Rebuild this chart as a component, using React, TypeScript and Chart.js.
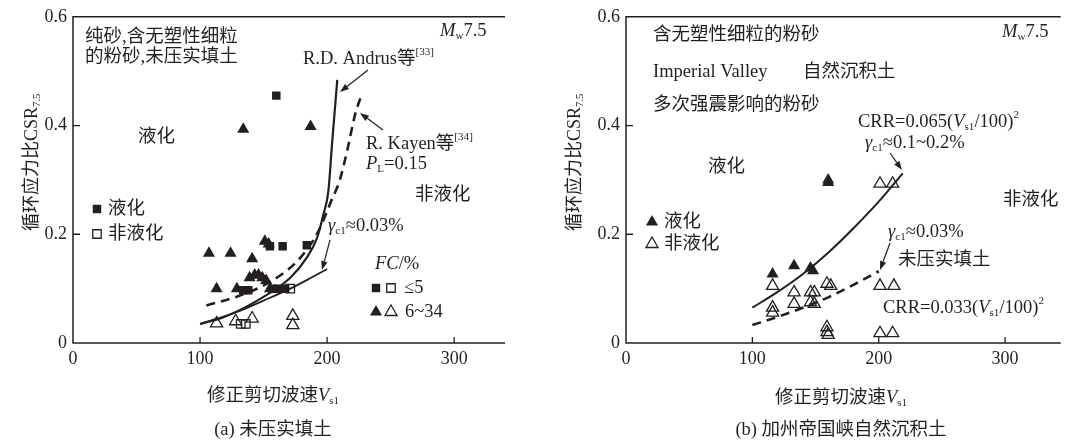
import React, { useEffect, useRef } from "react";
import { Chart, registerables } from "chart.js";
Chart.register(...registerables);

// ---------- shared axis data ----------
const xTicks = [0, 100, 200, 300];
const yTicks = [0, 0.2, 0.4, 0.6];
const yTickLabels = ["0", "0.2", "0.4", "0.6"];

// ---------- panel (a) ----------
const aLiqSqV = [160, 155, 165, 184, 134, 138, 157, 161, 167];
const aLiqSqC = [0.455, 0.178, 0.178, 0.18, 0.097, 0.097, 0.1, 0.1, 0.1];
const aNonSqV = [171, 132, 136];
const aNonSqC = [0.1, 0.035, 0.035];
const aLiqTriV = [107, 124, 141, 151, 154, 134, 187, 113, 129, 139, 143, 146, 149, 152, 155];
const aLiqTriC = [0.165, 0.165, 0.155, 0.187, 0.182, 0.393, 0.398, 0.1, 0.1, 0.12, 0.125, 0.125, 0.12, 0.115, 0.1];
const aNonTriV = [113, 128, 141, 173, 173];
const aNonTriC = [0.036, 0.04, 0.045, 0.05, 0.033];
const andrusV = [100, 118, 145, 171, 184, 192, 197, 201, 204, 208];
const andrusC = [0.035, 0.047, 0.078, 0.12, 0.157, 0.193, 0.236, 0.28, 0.37, 0.484];
const kayenV = [105, 131, 157, 179, 193, 203, 210, 216, 222, 227];
const kayenC = [0.069, 0.087, 0.115, 0.157, 0.205, 0.26, 0.3, 0.356, 0.42, 0.456];
const aGammaV = [100, 130, 150, 171, 185, 200];
const aGammaC = [0.035, 0.058, 0.078, 0.1, 0.117, 0.136];

// ---------- panel (b) ----------
const bLiqTriV = [160, 160, 116, 133, 146, 148];
const bLiqTriC = [0.295, 0.3, 0.127, 0.142, 0.138, 0.133];
const bNonTriV = [201, 211, 116, 133, 146, 149, 159, 162, 201, 212, 116, 116, 133, 146, 149, 159, 159, 160, 201, 211];
const bNonTriC = [0.293, 0.293, 0.105, 0.093, 0.093, 0.093, 0.109, 0.105, 0.105, 0.105, 0.065, 0.056, 0.072, 0.075, 0.072, 0.029, 0.02, 0.015, 0.018, 0.018];
const bUpperV = [100, 120, 140, 160, 180, 200, 219];
const bUpperC = [0.065, 0.094, 0.127, 0.166, 0.211, 0.26, 0.312];
const bLowerV = [100, 120, 140, 160, 180, 200];
const bLowerC = [0.033, 0.048, 0.065, 0.084, 0.107, 0.132];

const INK = "#231f20";
const FAM = '"Liberation Serif", "Times New Roman", "Noto Sans CJK SC", serif';
const TXT = 18.5;
const font = (size: number, italic = false) => `${italic ? "italic " : ""}${size}px ${FAM}`;

type Seg = { t: string; i?: boolean; s?: "sub" | "sup" };

function rich(ctx: CanvasRenderingContext2D, segs: Seg[], x: number, y: number, size = TXT, align: "left" | "center" = "left") {
  ctx.save();
  ctx.fillStyle = INK;
  ctx.textBaseline = "middle";
  ctx.textAlign = "left";
  const parts = segs.map((g) => {
    const sz = g.s ? size * 0.6 : size;
    ctx.font = font(sz, g.i);
    return { g, sz, w: ctx.measureText(g.t).width };
  });
  const total = parts.reduce((a, p) => a + p.w, 0);
  let cx = align === "center" ? x - total / 2 : x;
  for (const p of parts) {
    ctx.font = font(p.sz, p.g.i);
    const dy = p.g.s === "sub" ? size * 0.3 : p.g.s === "sup" ? -size * 0.35 : 0;
    ctx.fillText(p.g.t, cx, y + dy);
    cx += p.w;
  }
  ctx.restore();
}

function richVertical(ctx: CanvasRenderingContext2D, segs: Seg[], x: number, yBottom: number, size = 18) {
  ctx.save();
  ctx.translate(x, yBottom);
  ctx.rotate(-Math.PI / 2);
  rich(ctx, segs, 0, 0, size, "left");
  ctx.restore();
}

function arrow(ctx: CanvasRenderingContext2D, x1: number, y1: number, x2: number, y2: number) {
  ctx.save();
  ctx.strokeStyle = INK;
  ctx.fillStyle = INK;
  ctx.lineWidth = 1.2;
  const ang = Math.atan2(y2 - y1, x2 - x1);
  const hl = 9, hw = 3.2;
  const bx = x2 - Math.cos(ang) * hl, by = y2 - Math.sin(ang) * hl;
  ctx.beginPath();
  ctx.moveTo(x1, y1);
  ctx.lineTo(bx, by);
  ctx.stroke();
  ctx.beginPath();
  ctx.moveTo(x2, y2);
  ctx.lineTo(bx - Math.sin(ang) * hw, by + Math.cos(ang) * hw);
  ctx.lineTo(bx + Math.sin(ang) * hw, by - Math.cos(ang) * hw);
  ctx.closePath();
  ctx.fill();
  ctx.restore();
}

function marker(ctx: CanvasRenderingContext2D, kind: "sq" | "tri", filled: boolean, x: number, y: number) {
  ctx.save();
  ctx.strokeStyle = INK;
  ctx.fillStyle = INK;
  ctx.lineWidth = 1.3;
  ctx.beginPath();
  if (kind === "sq") {
    const h = 6 * Math.SQRT1_2;
    ctx.rect(x - h, y - h, 2 * h, 2 * h);
  } else {
    const r = 7;
    ctx.moveTo(x, y - r);
    ctx.lineTo(x + r * Math.cos(Math.PI / 6), y + r / 2);
    ctx.lineTo(x - r * Math.cos(Math.PI / 6), y + r / 2);
    ctx.closePath();
  }
  if (filled) ctx.fill();
  else ctx.stroke();
  ctx.restore();
}

function frame(ctx: CanvasRenderingContext2D, chart: any) {
  const { left, right, top, bottom } = chart.chartArea;
  const xs = chart.scales.x, ys = chart.scales.y;
  ctx.save();
  ctx.strokeStyle = INK;
  ctx.lineWidth = 1.5;
  ctx.beginPath();
  ctx.moveTo(right, top);
  ctx.lineTo(left, top);
  ctx.lineTo(left, bottom);
  ctx.lineTo(right, bottom);
  ctx.stroke();
  ctx.lineWidth = 1.3;
  ctx.beginPath();
  for (const v of xTicks) {
    if (v === 0) continue;
    const px = xs.getPixelForValue(v);
    ctx.moveTo(px, bottom);
    ctx.lineTo(px, bottom - 6);
  }
  for (const v of yTicks) {
    if (v === 0 || v === 0.6) continue;
    const py = ys.getPixelForValue(v);
    ctx.moveTo(left, py);
    ctx.lineTo(left + 7, py);
  }
  ctx.stroke();
  ctx.restore();
}

const pts = (xs: number[], ys: number[]) => xs.map((x, i) => ({ x, y: ys[i] }));

const scatterSet = (xs: number[], ys: number[], style: "rect" | "triangle", filled: boolean) => ({
  data: pts(xs, ys),
  pointStyle: style,
  pointRadius: style === "rect" ? 6 : 7,
  pointBorderWidth: filled ? 0 : 1.3,
  pointBackgroundColor: filled ? INK : "rgba(0,0,0,0)",
  pointBorderColor: INK,
  showLine: false,
});

const lineSet = (xs: number[], ys: number[], width: number, dash: number[] = []) => ({
  data: pts(xs, ys),
  showLine: true,
  pointRadius: 0,
  borderColor: INK,
  borderWidth: width,
  borderDash: dash,
  cubicInterpolationMode: "monotone",
  fill: false,
});

function baseOptions(xMax: number, yWidth: number, padRight: number) {
  return {
    responsive: false,
    animation: false,
    devicePixelRatio: 1,
    layout: { padding: { left: 0, right: padRight, top: 13, bottom: 0 } },
    plugins: { legend: { display: false }, tooltip: { enabled: false } },
    scales: {
      x: {
        type: "linear",
        min: 0,
        max: xMax,
        grid: { display: false, drawTicks: false },
        border: { display: false },
        afterBuildTicks: (s: any) => {
          s.ticks = xTicks.map((v) => ({ value: v }));
        },
        afterFit: (s: any) => {
          s.height = 101;
        },
        ticks: {
          color: INK,
          font: { family: FAM, size: 18 },
          padding: 5,
          maxRotation: 0,
          autoSkip: false,
          callback: (v: any) => String(v),
        },
      },
      y: {
        type: "linear",
        min: 0,
        max: 0.6,
        grid: { display: false, drawTicks: false },
        border: { display: false },
        afterBuildTicks: (s: any) => {
          s.ticks = yTicks.map((v) => ({ value: v }));
        },
        afterFit: (s: any) => {
          s.width = yWidth;
        },
        ticks: {
          color: INK,
          font: { family: FAM, size: 18 },
          padding: 6,
          callback: (_v: any, i: number) => yTickLabels[i],
        },
      },
    },
  };
}

const yTitle: Seg[] = [{ t: "循环应力比CSR" }, { t: "7.5", s: "sub" }];
const xTitle: Seg[] = [{ t: "修正剪切波速" }, { t: "V", i: true }, { t: "s1", s: "sub" }];

const drawA = {
  id: "drawA",
  afterDraw(chart: any) {
    const ctx = chart.ctx as CanvasRenderingContext2D;
    frame(ctx, chart);
    richVertical(ctx, yTitle, 32, 231, 18);
    rich(ctx, xTitle, 273, 396, TXT, "center");
    rich(ctx, [{ t: "(a) 未压实填土" }], 273, 430, TXT, "center");
    rich(ctx, [{ t: "纯砂,含无塑性细粒" }], 85, 37);
    rich(ctx, [{ t: "的粉砂,未压实填土" }], 85, 57);
    rich(ctx, [{ t: "M", i: true }, { t: "w", s: "sub" }, { t: "7.5" }], 440, 31);
    rich(ctx, [{ t: "R.D. Andrus等" }, { t: "[33]", s: "sup" }], 303, 59);
    arrow(ctx, 368, 70, 340, 92);
    rich(ctx, [{ t: "R. Kayen等" }, { t: "[34]", s: "sup" }], 366, 144);
    rich(ctx, [{ t: "P", i: true }, { t: "L", s: "sub" }, { t: "=0.15" }], 366, 164);
    arrow(ctx, 383, 130, 360, 113);
    rich(ctx, [{ t: "液化" }], 138, 137);
    rich(ctx, [{ t: "非液化" }], 415, 195);
    marker(ctx, "sq", true, 97, 209);
    rich(ctx, [{ t: "液化" }], 108, 209);
    marker(ctx, "sq", false, 97, 234);
    rich(ctx, [{ t: "非液化" }], 108, 234);
    rich(ctx, [{ t: "γ", i: true }, { t: "c1", s: "sub" }, { t: "≈0.03%" }], 328, 226);
    arrow(ctx, 330, 240, 322, 270);
    rich(ctx, [{ t: "FC", i: true }, { t: "/%" }], 375, 264);
    marker(ctx, "sq", true, 376, 288);
    marker(ctx, "sq", false, 391, 288);
    rich(ctx, [{ t: "≤5" }], 404, 288);
    marker(ctx, "tri", true, 376, 312);
    marker(ctx, "tri", false, 391, 312);
    rich(ctx, [{ t: "6~34" }], 405, 312);
  },
};

const drawB = {
  id: "drawB",
  afterDraw(chart: any) {
    const ctx = chart.ctx as CanvasRenderingContext2D;
    frame(ctx, chart);
    richVertical(ctx, yTitle, 41, 231, 18);
    rich(ctx, xTitle, 307, 398, TXT, "center");
    rich(ctx, [{ t: "(b) 加州帝国峡自然沉积土" }], 307, 430, TXT, "center");
    rich(ctx, [{ t: "含无塑性细粒的粉砂" }], 119, 35);
    rich(ctx, [{ t: "Imperial Valley" }], 119, 72);
    rich(ctx, [{ t: "自然沉积土" }], 269, 72);
    rich(ctx, [{ t: "多次强震影响的粉砂" }], 119, 105);
    rich(ctx, [{ t: "液化" }], 174, 167);
    rich(ctx, [{ t: "M", i: true }, { t: "w", s: "sub" }, { t: "7.5" }], 468, 32);
    rich(ctx, [{ t: "CRR=0.065(" }, { t: "V", i: true }, { t: "s1", s: "sub" }, { t: "/100)" }, { t: "2", s: "sup" }], 324, 122);
    rich(ctx, [{ t: "γ", i: true }, { t: "c1", s: "sub" }, { t: "≈0.1~0.2%" }], 331, 143);
    arrow(ctx, 356, 153, 368, 170);
    rich(ctx, [{ t: "非液化" }], 469, 200);
    marker(ctx, "tri", true, 118, 222);
    rich(ctx, [{ t: "液化" }], 130, 222);
    marker(ctx, "tri", false, 118, 244);
    rich(ctx, [{ t: "非液化" }], 130, 244);
    rich(ctx, [{ t: "γ", i: true }, { t: "c1", s: "sub" }, { t: "≈0.03%" }], 354, 232);
    rich(ctx, [{ t: "未压实填土" }], 364, 260);
    arrow(ctx, 356, 243, 346, 270);
    rich(ctx, [{ t: "CRR=0.033(" }, { t: "V", i: true }, { t: "s1", s: "sub" }, { t: "/100)" }, { t: "2", s: "sup" }], 349, 308);
  },
};

export default function App() {
  const refA = useRef<HTMLCanvasElement>(null);
  const refB = useRef<HTMLCanvasElement>(null);

  useEffect(() => {
    document.body.style.margin = "0";
    const chartA = new Chart(refA.current!, {
      type: "scatter",
      data: {
        datasets: [
          scatterSet(aLiqSqV, aLiqSqC, "rect", true),
          scatterSet(aNonSqV, aNonSqC, "rect", false),
          scatterSet(aLiqTriV, aLiqTriC, "triangle", true),
          scatterSet(aNonTriV, aNonTriC, "triangle", false),
          lineSet(andrusV, andrusC, 2.2),
          lineSet(kayenV, kayenC, 2.6, [9, 6]),
          lineSet(aGammaV, aGammaC, 1.8),
        ] as any,
      },
      options: baseOptions(340, 73, 534 - 505) as any,
      plugins: [drawA],
    });
    const chartB = new Chart(refB.current!, {
      type: "scatter",
      data: {
        datasets: [
          scatterSet(bLiqTriV, bLiqTriC, "triangle", true),
          scatterSet(bNonTriV, bNonTriC, "triangle", false),
          lineSet(bUpperV, bUpperC, 2),
          lineSet(bLowerV, bLowerC, 2.6, [9, 6]),
        ] as any,
      },
      options: baseOptions(344, 92, 535 - 533) as any,
      plugins: [drawB],
    });
    return () => {
      chartA.destroy();
      chartB.destroy();
    };
  }, []);

  return (
    <div style={{ position: "relative", width: 1069, height: 444, background: "#fff" }}>
      <canvas ref={refA} width={534} height={444} style={{ position: "absolute", left: 0, top: 0 }} />
      <canvas ref={refB} width={535} height={444} style={{ position: "absolute", left: 534, top: 0 }} />
    </div>
  );
}
